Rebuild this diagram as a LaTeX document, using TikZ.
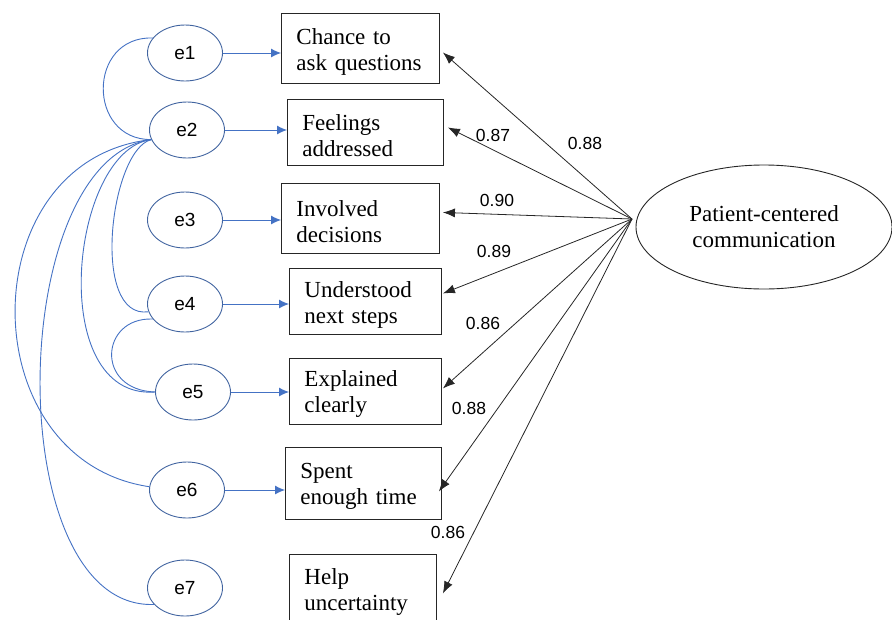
\documentclass[tikz,border=0pt]{standalone}
\usepackage{fontspec}
\setmainfont{Liberation Serif}
\newfontfamily\sansf{Liberation Sans}
\usetikzlibrary{arrows.meta,calc,shapes.geometric}
\definecolor{eblue}{RGB}{68,114,196}
\definecolor{eedge}{RGB}{65,100,160}
\newcommand{\topstrut}{\rule{0pt}{22pt}}
\begin{document}
\begin{tikzpicture}[x=1pt,y=-1pt,
  obs/.style={draw=black!85, line width=0.9pt, rectangle, align=left, inner xsep=15pt, inner ysep=0pt, anchor=north west, font=\fontsize{23}{26}\selectfont},
  err/.style={ellipse, draw=eedge, line width=0.9pt, minimum width=75pt, minimum height=56pt, inner sep=0pt, font=\sansf\fontsize{19}{22}\selectfont},
  latent/.style={ellipse, draw=black!85, line width=0.9pt, minimum width=256pt, minimum height=124pt, inner sep=0pt, align=center, font=\fontsize{23}{26}\selectfont},
  load/.style={draw=black!85, line width=0.8pt, -{Latex[length=12pt,width=9pt]}},
  res/.style={draw=eblue, line width=0.9pt, -{Latex[length=10pt,width=9pt]}},
  cov/.style={draw=eblue, line width=0.9pt},
  coef/.style={font=\sansf\fontsize{17.5}{20}\selectfont, inner sep=0pt}]

\useasboundingbox (0,0) rectangle (892,619);

% observed indicators
\node[obs, text width=128pt, minimum height=70pt] (b1) at (281,13) {\topstrut Chance to\\ask questions};
\node[obs, text width=126pt, minimum height=66pt] (b2) at (287,99) {\topstrut Feelings\\addressed};
\node[obs, text width=128pt, minimum height=70pt] (b3) at (281,183) {\topstrut Involved\\decisions};
\node[obs, text width=122pt, minimum height=66pt] (b4) at (289,268) {\topstrut Understood\\next steps};
\node[obs, text width=122pt, minimum height=66pt] (b5) at (289,358) {\topstrut Explained\\clearly};
\node[obs, text width=126pt, minimum height=72pt] (b6) at (285,447) {\topstrut Spent\\enough time};
\node[obs, text width=117pt, minimum height=70pt] (b7) at (289,554) {\topstrut Help\\uncertainty};

% error terms
\node[err] (e1) at (185,53) {e1};
\node[err] (e2) at (187,130) {e2};
\node[err] (e3) at (185,220) {e3};
\node[err] (e4) at (185,304) {e4};
\node[err] (e5) at (193,392) {e5};
\node[err] (e6) at (187,490) {e6};
\node[err] (e7) at (185,588) {e7};

% latent
\node[latent] (pc) at (764,227) {Patient-centered\\communication};
\coordinate (hub) at (632,219);

% residual arrows
\foreach \i in {1,...,6}{
  \draw[res] (e\i.east) -- (e\i.east -| b\i.west);
}

% covariances
\draw[cov] (e1.155) .. controls (87,36) and (87,140) .. (e2.195);
\draw[cov] (e2.195) .. controls (110,150) and (90,320) .. (e4.192);
\draw[cov] (e2.195) .. controls (70,150) and (45,400) .. (e5.west);
\draw[cov] (e2.195) .. controls (-30,160) and (-30,460) .. (e6.175);
\draw[cov] (e2.195) .. controls (5,160) and (0,610) .. (e7.208);
\draw[cov] (e4.205) .. controls (100,317) and (95,390) .. (e5.west);

% loadings
\draw[load] (hub) -- ($(b1.east)+(3,4)$);
\draw[load] (hub) -- ($(b2.east)+(4,-5)$);
\draw[load] (hub) -- ($(b3.east)+(3,-6)$);
\draw[load] (hub) -- ($(b4.east)+(1,-8)$);
\draw[load] (hub) -- ($(b5.east)+(1,-3)$);
\draw[load] (hub) -- ($(b6.east)+(-3,8)$);
\draw[load] (hub) -- ($(b7.east)+(6,4)$);

% coefficients
\node[coef] (l1) at (585,143) {0.88};
\node[coef] (l2) at (493,135) {0.87};
\node[coef] (l3) at (497,200) {0.90};
\node[coef] (l4) at (494,251) {0.89};
\node[coef] (l5) at (483,323) {0.86};
\node[coef] (l6) at (469,408) {0.88};
\node[coef] (l7) at (448,532) {0.86};
\end{tikzpicture}
\end{document}
